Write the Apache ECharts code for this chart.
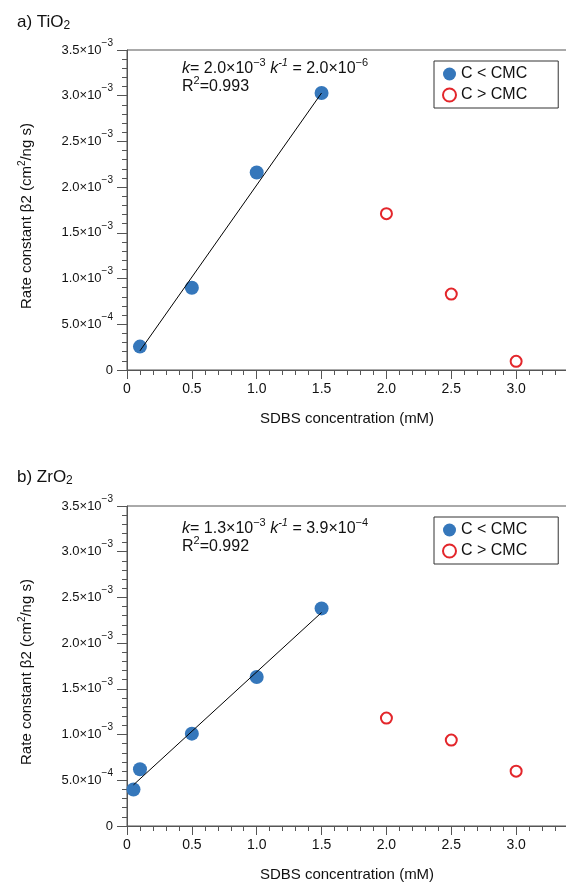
<!DOCTYPE html>
<html>
<head>
<meta charset="utf-8">
<title>SDBS rate constant</title>
<script src="https://cdn.jsdelivr.net/npm/echarts@6.0.0/dist/echarts.min.js"></script>
<style>
  html, body { margin: 0; padding: 0; background: #fff; }
  #main { width: 566px; height: 884px; }
</style>
</head>
<body>
<div id="main"></div>
<script>
// a) TiO2
var tiBlueX = [0.1, 0.5, 1.0, 1.5];
var tiBlueY = [0.256e-3, 0.90e-3, 2.16e-3, 3.03e-3];
var tiRedX = [2.0, 2.5, 3.0];
var tiRedY = [1.71e-3, 0.83e-3, 0.095e-3];
var tiFitX = [0.1, 1.5];
var tiFitY = [0.21e-3, 3.03e-3];

// b) ZrO2
var zrBlueX = [0.05, 0.1, 0.5, 1.0, 1.5];
var zrBlueY = [0.40e-3, 0.62e-3, 1.01e-3, 1.63e-3, 2.38e-3];
var zrRedX = [2.0, 2.5, 3.0];
var zrRedY = [1.18e-3, 0.94e-3, 0.60e-3];
var zrFitX = [0.05, 1.5];
var zrFitY = [0.45e-3, 2.335e-3];

var legendNames = ['C < CMC', 'C > CMC'];
var xStep = 0.5, xMax = 3.5;
var yStep = 0.5e-3, yMax = 3.5e-3;

var font = "'Liberation Sans', Arial, Helvetica, sans-serif";
var ink = '#111';
var axisGray = '#555';
var blue = '#3577bb';
var red = '#e3262b';
var gridTops = [50, 506];

function zip(xs, ys) {
  return xs.map(function (x, i) { return [x, ys[i]]; });
}

function yLabel(v) {
  v = +v.toPrecision(6);
  if (v === 0) return '0';
  var e = Math.floor(Math.log10(v) + 1e-9);
  var m = v / Math.pow(10, e);
  return m.toFixed(1) + '×10{s|−' + (-e) + '}';
}

function xLabel(v) {
  return v === 0 ? '0' : v.toFixed(1);
}

function xAxis(i) {
  return {
    type: 'value', gridIndex: i, min: 0, max: xMax, interval: xStep,
    name: 'SDBS concentration (mM)', nameLocation: 'middle', nameGap: 41,
    nameTextStyle: { fontFamily: font, fontSize: 15, color: ink, padding: [0, 14, 0, 0] },
    axisLine: { show: true, lineStyle: { color: axisGray, width: 1 } },
    axisTick: { show: true, length: 9, lineStyle: { color: axisGray } },
    minorTick: { show: true, splitNumber: 5, length: 5, lineStyle: { color: axisGray } },
    splitLine: { show: false },
    axisLabel: { margin: 12, fontFamily: font, fontSize: 14, color: ink, formatter: xLabel, showMaxLabel: false }
  };
}

function yAxis(i) {
  return {
    type: 'value', gridIndex: i, min: 0, max: yMax, interval: yStep,
    name: 'Rate constant β2 (cm{s|2}/ng s)', nameLocation: 'middle', nameGap: 91,
    nameTextStyle: {
      fontFamily: font, fontSize: 15, color: ink, padding: [0, 12, 0, 0],
      rich: { s: { fontFamily: font, fontSize: 10, color: ink, padding: [0, 0, 9, 0] } }
    },
    axisLine: { show: true, lineStyle: { color: axisGray, width: 1 } },
    axisTick: { show: true, length: 10, lineStyle: { color: axisGray } },
    minorTick: { show: true, splitNumber: 5, length: 5, lineStyle: { color: axisGray } },
    splitLine: { show: false },
    axisLabel: {
      margin: 14, fontFamily: font, fontSize: 13, color: ink, formatter: yLabel,
      rich: { s: { fontFamily: font, fontSize: 10, color: ink, padding: [0, 0, 14, 0] } }
    }
  };
}

function panelSeries(i, blueX, blueY, redX, redY, fitX, fitY) {
  return [
    {
      name: legendNames[0], type: 'scatter', xAxisIndex: i, yAxisIndex: i, z: 2,
      symbol: 'circle', symbolSize: 14,
      itemStyle: { color: blue, opacity: 1 },
      data: zip(blueX, blueY)
    },
    {
      name: legendNames[1], type: 'scatter', xAxisIndex: i, yAxisIndex: i, z: 2,
      symbol: 'circle', symbolSize: 11,
      itemStyle: { color: '#fff', borderColor: red, borderWidth: 2, opacity: 1 },
      data: zip(redX, redY)
    },
    {
      name: 'fit', type: 'line', xAxisIndex: i, yAxisIndex: i, z: 3,
      symbol: 'none', silent: true,
      lineStyle: { color: '#000', width: 1 },
      data: zip(fitX, fitY)
    }
  ];
}

var noteRich = {
  i: { fontFamily: font, fontSize: 16, fontStyle: 'italic', fill: ink },
  s: { fontFamily: font, fontSize: 11, fill: ink, padding: [0, 0, 12, 0] },
  si: { fontFamily: font, fontSize: 11, fontStyle: 'italic', fill: ink, padding: [0, 0, 12, 0] }
};

function noteText(x, y, text) {
  return {
    type: 'text', x: x, y: y,
    style: { text: text, fontFamily: font, fontSize: 16, fill: ink, verticalAlign: 'middle', rich: noteRich }
  };
}

function titleText(x, y, text) {
  return {
    type: 'text', x: x, y: y,
    style: {
      text: text, fontFamily: font, fontSize: 17, fill: ink, verticalAlign: 'middle',
      rich: { b: { fontSize: 12, fontFamily: font, fill: ink, padding: [8, 0, 0, 0] } }
    }
  };
}

function legend(i) {
  return {
    data: legendNames, orient: 'vertical', left: 434, top: gridTops[i] + 11,
    selectedMode: false,
    itemWidth: 13, itemHeight: 13, itemGap: 5,
    padding: [5, 31, 5, 8],
    borderColor: '#333', borderWidth: 1, backgroundColor: '#fff',
    textStyle: { fontFamily: font, fontSize: 16, color: ink }
  };
}

var chart = echarts.init(document.getElementById('main'));
var option = {
  backgroundColor: '#fff',
  animation: false,
  // the frame runs past the right edge, as in the original figure
  grid: gridTops.map(function (t) {
    return {
      left: 127, width: 454, top: t, height: 320, outerBoundsMode: 'none',
      show: true, borderColor: axisGray, borderWidth: 1
    };
  }),
  xAxis: [xAxis(0), xAxis(1)],
  yAxis: [yAxis(0), yAxis(1)],
  legend: [legend(0), legend(1)],
  series: panelSeries(0, tiBlueX, tiBlueY, tiRedX, tiRedY, tiFitX, tiFitY)
    .concat(panelSeries(1, zrBlueX, zrBlueY, zrRedX, zrRedY, zrFitX, zrFitY)),
  graphic: [
    titleText(17, 22, 'a) TiO{b|2}'),
    titleText(17, 477, 'b) ZrO{b|2}'),
    noteText(182, 69, '{i|k}= 2.0×10{s|−3} {i|k}{si|-1} = 2.0×10{s|−6}'),
    noteText(182, 87, 'R{s|2}=0.993'),
    noteText(182, 529, '{i|k}= 1.3×10{s|−3} {i|k}{si|-1} = 3.9×10{s|−4}'),
    noteText(182, 547, 'R{s|2}=0.992')
  ]
};
chart.setOption(option);
window.addEventListener('resize', function () { chart.resize(); });
</script>
</body>
</html>
